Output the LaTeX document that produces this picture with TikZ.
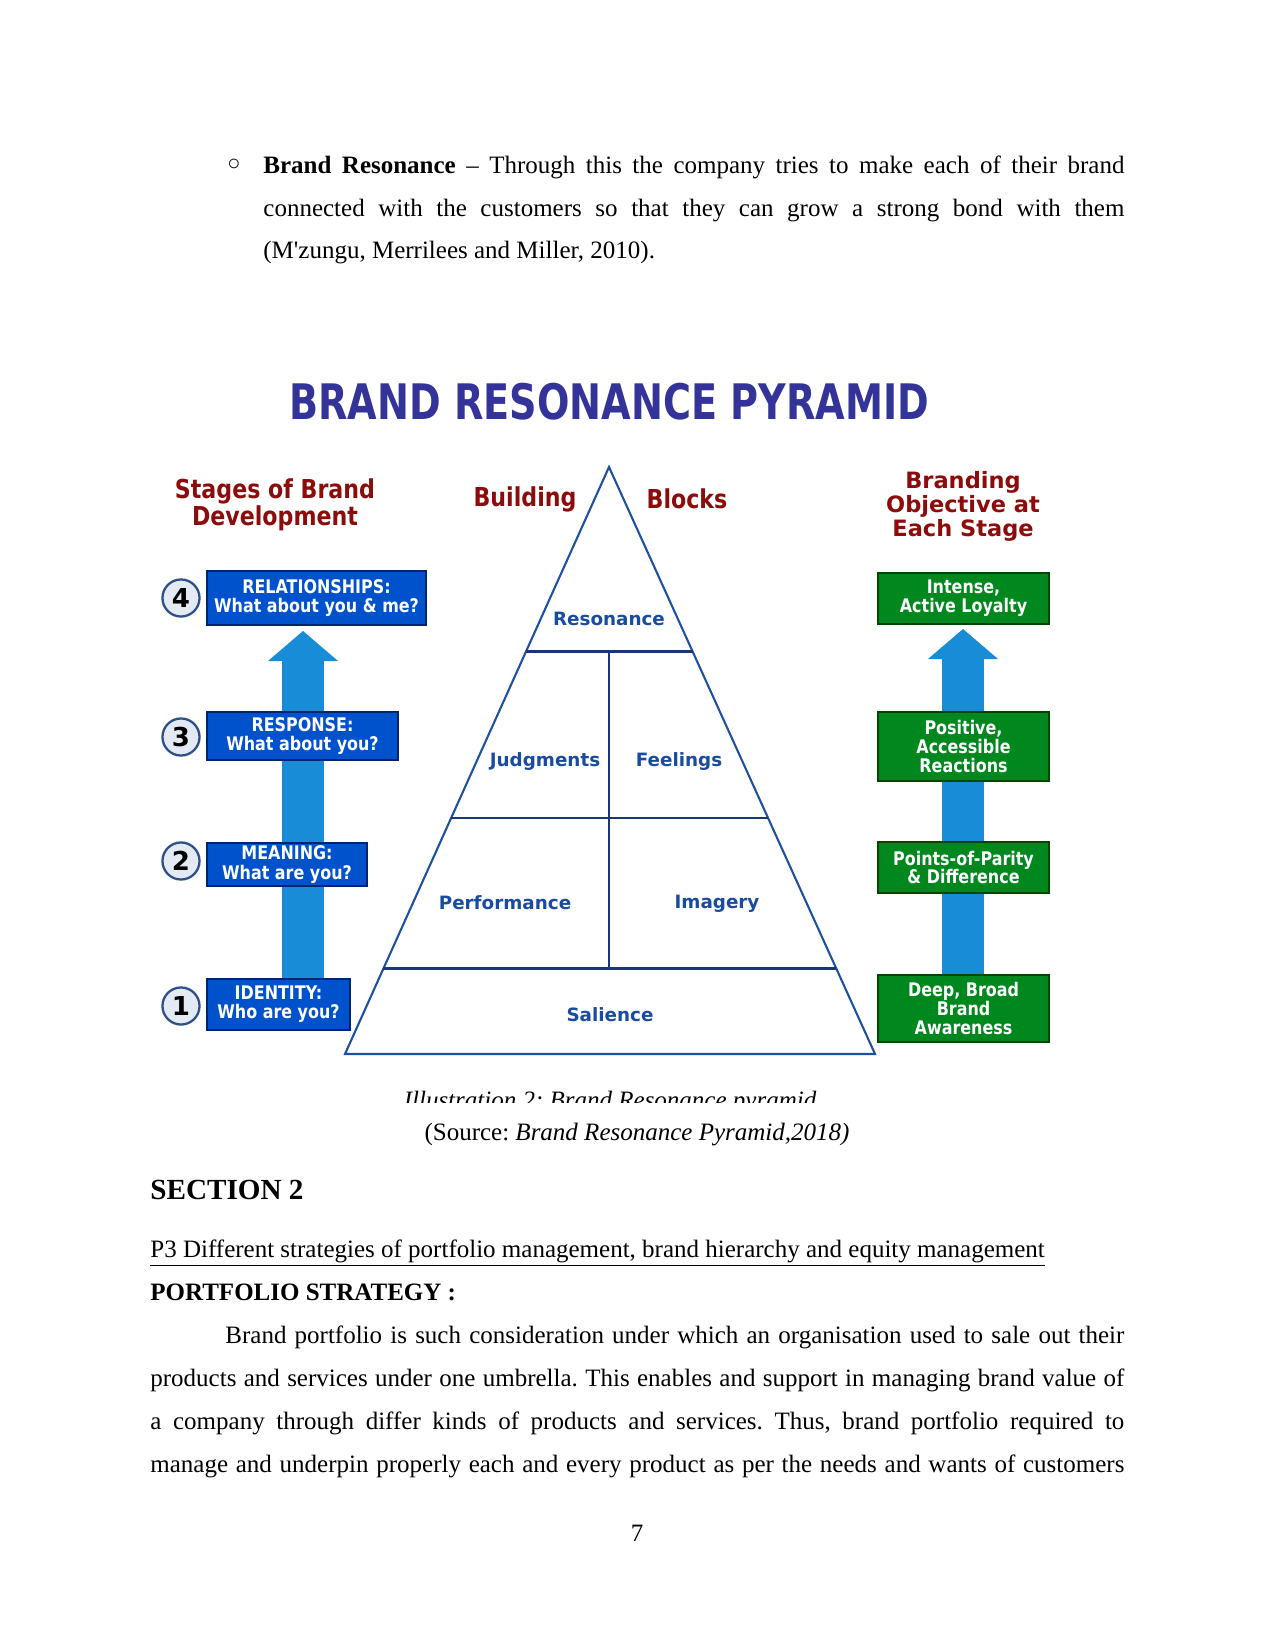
\documentclass[tikz,border=0pt]{standalone}
\usepackage{fontspec}
\setmainfont{Liberation Serif}
\newfontfamily\tah[FakeStretch=0.85]{DejaVu Sans}
\newfontfamily\ttl[FakeStretch=0.78]{DejaVu Sans}
\newfontfamily\verd{DejaVu Sans}
\usetikzlibrary{calc,arrows.meta}
\frenchspacing

\definecolor{titleblue}{RGB}{51,51,153}
\definecolor{headred}{RGB}{140,12,12}
\definecolor{boxblue}{RGB}{0,82,204}
\definecolor{boxnavy}{RGB}{0,35,110}
\definecolor{goalgreen}{RGB}{0,136,30}
\definecolor{darkgreen}{RGB}{0,70,0}
\definecolor{arrowblue}{RGB}{25,140,215}
\definecolor{pyrblue}{RGB}{30,80,160}
\definecolor{tiernavy}{RGB}{25,55,120}
\definecolor{blocktext}{RGB}{25,75,160}
\definecolor{ringfill}{RGB}{228,234,244}
\definecolor{ringline}{RGB}{45,80,140}

\tikzset{
  stagebox/.style={draw=boxnavy, fill=boxblue, text=white, align=center, inner sep=0pt, line width=0.6pt,
    font=\tah\bfseries\fontsize{9}{9.2}\selectfont},
  goalbox/.style={draw=darkgreen, fill=goalgreen, text=white, align=center, inner sep=0pt, line width=0.6pt,
    minimum width=82.1pt, font=\tah\bfseries\fontsize{9}{9}\selectfont},
  stepnum/.style={circle, draw=ringline, fill=ringfill, minimum size=17.8pt, inner sep=0pt, line width=1.1pt,
    font=\verd\bfseries\fontsize{12.5}{12.5}\selectfont},
  block/.style={text=blocktext, inner sep=0pt, font=\verd\bfseries\fontsize{8.8}{10}\selectfont},
  head/.style={text=headred, align=center, inner sep=0pt},
  uparrow/.style={draw=arrowblue, line width=20.2pt, -{Triangle[width=33.6pt,length=14.4pt,line width=0pt]}},
  pyr/.style={draw=pyrblue, line width=1pt, line join=miter},
  tier/.style={draw=tiernavy, line width=1.4pt},
  bodyline/.style={anchor=base west, inner sep=0pt, font=\fontsize{12}{14}\selectfont},
}

\begin{document}
\begin{tikzpicture}[x=0.48pt, y=-0.48pt]
\fill[white] (0,0) rectangle (1275,1650);
\useasboundingbox (0,0) rectangle (1275,1650);

% text above
\node[bodyline, anchor=center, font=\fontsize{10.5}{10.5}\selectfont] (dot) at (234,165) {○};
\node[bodyline] (b1) at (263,174) {\makebox[413.3pt][s]{\textbf{Brand Resonance} – Through this the company tries to make each of their brand}};
\node[bodyline] (b2) at (263,217) {\makebox[413.3pt][s]{connected with the customers so that they can grow a strong bond with them}};
\node[bodyline] (b3) at (263,259) {(M\textquotesingle zungu, Merrilees and Miller, 2010).};

% title
\node[text=titleblue, inner sep=0pt, font=\ttl\bfseries\fontsize{23.5}{24}\selectfont] (title) at (609,402) {BRAND RESONANCE PYRAMID};

% headings
\node[head, font=\tah\bfseries\fontsize{12.5}{11.5}\selectfont] (stages) at (275,505) {Stages of Brand\\Development};
\node[head, font=\tah\bfseries\fontsize{12.5}{11.5}\selectfont] (build) at (525,499) {Building};
\node[head, font=\tah\bfseries\fontsize{12.5}{11.5}\selectfont] (blocks) at (687,499) {Blocks};
\node[head, font=\verd\bfseries\fontsize{10.8}{11.5}\selectfont] (goals) at (963,506) {Branding\\Objective at\\Each Stage};

% arrows behind the boxes
\coordinate (ltip) at (303,631);
\coordinate (rtip) at (963,629);
\coordinate (lfoot) at (303,990);
\coordinate (rfoot) at (963,990);
\draw[uparrow] (lfoot) -- (ltip);
\draw[uparrow] (rfoot) -- (rtip);

% stages
\node[stagebox, minimum width=105.1pt, minimum height=25.9pt] (rel) at (316.5,598) {RELATIONSHIPS:\\What about you \& me?};
\node[stagebox, minimum width=91.7pt, minimum height=23pt] (resp) at (302.5,736) {RESPONSE:\\What about you?};
\node[stagebox, minimum width=76.8pt, minimum height=20.6pt] (mean) at (287,864.5) {MEANING:\\What are you?};
\node[stagebox, minimum width=68.6pt, minimum height=24.5pt] (iden) at (278.5,1004.5) {IDENTITY:\\Who are you?};

\node[stepnum] (n4) at (181,598) {4};
\node[stepnum] (n3) at (181,737) {3};
\node[stepnum] (n2) at (181,861) {2};
\node[stepnum] (n1) at (181,1006) {1};

% objectives
\node[goalbox, minimum height=24.5pt] (loyal) at (963.5,598.5) {Intense,\\Active Loyalty};
\node[goalbox, minimum height=33.1pt] (react) at (963.5,746.5) {Positive,\\Accessible\\Reactions};
\node[goalbox, minimum height=24.5pt] (parity) at (963.5,867.5) {Points-of-Parity\\\& Difference};
\node[goalbox, minimum height=32.2pt] (aware) at (963.5,1008.5) {Deep, Broad\\Brand\\Awareness};

% pyramid
\coordinate (apex) at (609,467);
\coordinate (bl) at (345,1054);
\coordinate (br) at (875,1054);
\draw[pyr] (apex) -- (bl) -- (br) -- cycle;

% tiers
\coordinate (l1) at ($(apex)!0.315!(bl)$);
\coordinate (r1) at ($(apex)!0.315!(br)$);
\coordinate (l2) at ($(apex)!0.598!(bl)$);
\coordinate (r2) at ($(apex)!0.598!(br)$);
\coordinate (l3) at ($(apex)!0.855!(bl)$);
\coordinate (r3) at ($(apex)!0.855!(br)$);
\draw[tier] (l1) -- (r1);
\draw[tier] (l2) -- (r2);
\draw[tier] (l3) -- (r3);
\draw[tier] (l1 -| apex) -- (l3 -| apex);

\node[block] (reso) at (609,619) {Resonance};
\node[block] (judg) at (545,762) {Judgments};
\node[block] (feel) at (679,762) {Feelings};
\node[block] (perf) at (505,903) {Performance};
\node[block] (imag) at (717,904) {Imagery};
\node[block] (sali) at (610,1015) {Salience};

% caption, cut off at the bottom
\begin{scope}
\clip (300,1080) rectangle (950,1102);
\node[bodyline, anchor=base] (illus) at (610,1108) {\itshape Illustration 2: Brand Resonance pyramid};
\end{scope}
\node[bodyline, anchor=base] (src) at (637,1140) {(Source: \textit{Brand Resonance Pyramid,2018)}};

% text below
\node[bodyline, font=\bfseries\fontsize{14}{16}\selectfont] (sec) at (150,1199) {SECTION 2};
\node[bodyline] (p3) at (150,1257) {\underline{P3 Different strategies of portfolio management, brand hierarchy and equity management}};
\node[bodyline] (port) at (150,1300) {\textbf{PORTFOLIO STRATEGY :}};
\node[bodyline] (t1) at (225,1343) {\makebox[431.5pt][s]{Brand portfolio is such consideration under which an organisation used to sale out their}};
\node[bodyline] (t2) at (150,1386) {\makebox[467.5pt][s]{products and services under one umbrella. This enables and support in managing brand value of}};
\node[bodyline] (t3) at (150,1429) {\makebox[467.5pt][s]{a company through differ kinds of products and services. Thus, brand portfolio required to}};
\node[bodyline] (t4) at (150,1472) {\makebox[467.5pt][s]{manage and underpin properly each and every product as per the needs and wants of customers}};
\node[bodyline, anchor=base] (pg) at (637,1541) {7};
\end{tikzpicture}
\end{document}
